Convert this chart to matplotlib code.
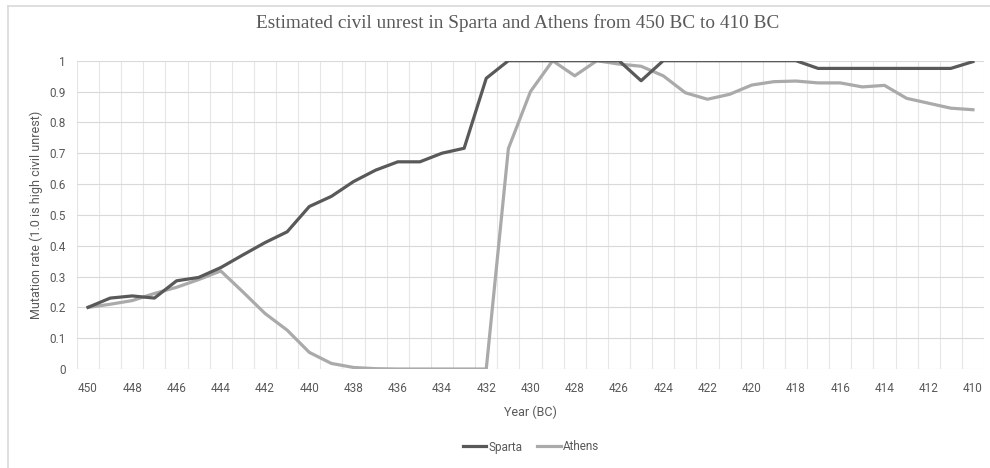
import matplotlib.pyplot as plt
from matplotlib.lines import Line2D

years = list(range(450, 409, -1))
sparta = [0.20, 0.23, 0.237, 0.23, 0.286, 0.297, 0.329, 0.37, 0.41, 0.445,
          0.527, 0.56, 0.608, 0.645, 0.672, 0.672, 0.70, 0.716, 0.943, 1.0,
          1.0, 1.0, 1.0, 1.0, 1.0, 0.935, 1.0, 1.0, 1.0, 1.0,
          1.0, 1.0, 1.0, 0.975, 0.975, 0.975, 0.975, 0.975, 0.975, 0.975,
          0.997]
athens = [0.20, 0.21, 0.222, 0.245, 0.265, 0.29, 0.318, 0.25, 0.18, 0.126,
          0.054, 0.018, 0.005, 0.001, 0.0, 0.0, 0.0, 0.0, 0.0, 0.715,
          0.90, 1.0, 0.951, 1.0, 0.989, 0.982, 0.951, 0.896, 0.875, 0.891,
          0.921, 0.932, 0.934, 0.928, 0.928, 0.915, 0.92, 0.878, 0.862, 0.846,
          0.841]

TXT = '#595959'
GRID = '#d9d9d9'
SANS = ['Roboto', 'DejaVu Sans']

fig = plt.figure(figsize=(9.9, 4.68), dpi=100)
ax = fig.add_axes([77 / 990, 1 - 369 / 468, (984 - 77) / 990, (369 - 60.7) / 468])

idx = list(range(len(years)))
ax.plot(idx, sparta, color='#595959', lw=2.3, label='Sparta', zorder=3,
        solid_joinstyle='round')
ax.plot(idx, athens, color='#aaaaaa', lw=2.3, label='Athens', zorder=2,
        solid_joinstyle='round')

ax.set_xlim(-0.5, len(years) - 0.5)
ax.set_ylim(0, 1)

# category gridlines between points
for k in range(len(years) + 1):
    ax.axvline(k - 0.5, color='#e6e6e6', lw=0.8, zorder=0)
yt = [i / 10 for i in range(11)]
for v in yt:
    ax.axhline(v, color=GRID, lw=0.8, zorder=0)

ax.set_yticks(yt)
ax.set_yticklabels(['0'] + ['0.%d' % i for i in range(1, 10)] + ['1'])
ax.set_xticks(idx[::2])
ax.set_xticklabels([str(y) for y in years[::2]])
ax.tick_params(length=0, colors=TXT, labelsize=8.5)
ax.tick_params(axis='x', pad=9)
ax.tick_params(axis='y', pad=8)
for lab in ax.get_xticklabels() + ax.get_yticklabels():
    lab.set_family(SANS)
for s in ax.spines.values():
    s.set_visible(False)

ax.set_xlabel('Year (BC)', color=TXT, fontsize=9, family=SANS, labelpad=8)
ax.set_ylabel('Mutation rate (1.0 is high civil unrest)', color=TXT, fontsize=9,
              family=SANS, labelpad=5)

fig.text(518 / 990, 1 - 23 / 468, 'Estimated civil unrest in Sparta and Athens from 450 BC to 410 BC',
         ha='center', va='center', color=TXT, fontsize=13.9, family='Liberation Serif')

handles = [Line2D([], [], color='#595959', lw=2.3), Line2D([], [], color='#aaaaaa', lw=2.3)]
fig.legend(handles, ['Sparta', 'Athens'], loc='center', ncol=2, frameon=False,
           bbox_to_anchor=(531 / 990, 1 - 447 / 468), handlelength=2.0,
           handletextpad=0.2, columnspacing=1.2, prop={'family': SANS, 'size': 8.5},
           labelcolor=TXT)

# chart area border
fig.add_artist(Line2D([8 / 990, 1], [1 - 6 / 468, 1 - 6 / 468], color=GRID, lw=1.2))
fig.add_artist(Line2D([8 / 990, 8 / 990], [0, 1 - 6 / 468], color=GRID, lw=1.2))

fig.savefig('out.png', dpi=100, facecolor='white')
